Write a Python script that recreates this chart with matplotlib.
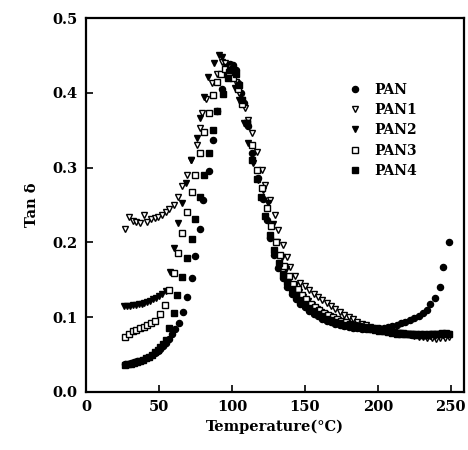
import numpy as np
import matplotlib; matplotlib.use("Agg"); import matplotlib.pyplot as plt

plt.rcParams["font.family"] = ["DejaVu Serif"]
plt.rcParams["font.weight"] = "bold"

# ---- data (Temperature in C, tan delta) ----
pan_t = [27, 29, 31, 33, 35, 37, 39, 41, 43, 45, 47, 49, 51, 53, 55, 57, 59, 61,
         64, 66.5, 69, 72.5, 75, 78, 80, 84, 87, 90, 93, 95, 97, 99, 101, 103, 104,
         106, 108, 111, 114, 118, 121, 124, 126, 129, 131.5, 135, 138, 141, 144, 147,
         150, 153, 156, 159, 162, 165, 168, 171, 174, 177, 180, 183, 186, 189, 192,
         195, 198, 201, 204, 207, 210, 213, 216, 219, 222, 225, 228, 231, 233.5, 236,
         239, 242.5, 245, 249]
pan_v = [.038, .038, .039, .040, .041, .042, .043, .045, .047, .049, .052, .055, .058,
         .062, .066, .071, .077, .084, .092, .107, .127, .152, .182, .218, .257, .296,
         .337, .376, .405, .425, .435, .438, .437, .430, .413, .400, .386, .355, .320,
         .286, .258, .230, .206, .183, .166, .152, .140, .131, .124, .118, .113, .108,
         .104, .101, .098, .095, .093, .091, .089, .088, .087, .086, .085, .084, .084,
         .084, .084, .085, .086, .087, .088, .090, .092, .094, .096, .099, .102, .106,
         .110, .117, .125, .140, .167, .200]

pan1_t = [27, 29.5, 32, 34.5, 37, 39.5, 42, 44.5, 47, 49.5, 52, 54.5, 57, 60, 63, 66,
          69, 72, 76, 78, 79.5, 82, 86, 90, 93, 95, 97, 99, 101, 103, 105, 107, 109,
          111, 114, 117, 120.5, 122.6, 126, 129.5, 131.5, 135, 138, 140, 143, 146.6,
          150, 153, 156, 159, 162, 165, 168, 171, 174, 177, 180, 183, 186, 189, 192,
          195, 198, 201, 204, 207, 210, 213, 216, 219, 222, 225, 228, 231, 234, 237,
          240, 243, 246, 249]
pan1_v = [.218, .234, .229, .227, .226, .237, .227, .231, .232, .234, .236, .240, .245,
          .250, .260, .275, .290, .310, .330, .353, .373, .392, .413, .425, .441, .440,
          .435, .430, .425, .415, .400, .390, .380, .364, .346, .321, .297, .277, .257,
          .237, .217, .197, .180, .167, .155, .146, .141, .136, .131, .127, .123, .119,
          .115, .111, .107, .103, .100, .097, .094, .091, .089, .087, .085, .083, .082,
          .081, .080, .079, .078, .077, .076, .075, .074, .073, .072, .072, .071, .072,
          .072, .073]

pan2_t = [26, 28, 30, 32, 34, 36, 38, 40, 42, 44, 46, 48, 50, 52, 55, 57.5, 60, 63, 66,
          68.5, 72, 76, 78, 81, 83.5, 88, 91, 93, 96, 99, 102, 105, 108, 111, 114.5,
          118, 121, 124.5, 128, 131, 134, 137, 140, 143, 146, 149, 152, 155, 158, 161,
          164, 167, 170, 173, 176, 179, 182, 185, 188, 191, 194, 197, 200, 203, 206,
          209, 212, 215, 218, 221, 224, 227, 230, 233, 236, 239, 242, 245, 248]
pan2_v = [.115, .115, .115, .116, .116, .117, .118, .119, .120, .122, .124, .126, .128,
          .131, .135, .160, .193, .226, .253, .280, .310, .340, .366, .394, .421, .440,
          .450, .448, .435, .420, .406, .390, .360, .333, .306, .283, .270, .252, .225,
          .200, .180, .165, .153, .143, .134, .127, .121, .116, .111, .107, .104, .101,
          .098, .096, .094, .092, .090, .088, .087, .086, .085, .084, .083, .082, .081,
          .080, .079, .079, .078, .077, .077, .076, .076, .075, .075, .075, .076, .076,
          .077]

pan3_t = [27, 29.5, 32, 34.5, 37, 39.5, 42, 44.5, 47, 50.5, 54, 57, 60, 63, 66, 69,
          72.5, 75, 78, 81, 84, 87, 90, 92.5, 95, 98, 101, 104, 107, 110, 113.5, 117,
          120.5, 124, 127, 130, 133, 136, 139, 142, 145, 148, 151, 154, 157, 160, 163,
          166, 169, 172, 175, 178, 181, 184, 187, 190, 193, 196, 199, 202, 205, 208,
          211, 214, 217, 220, 223, 226, 229, 232, 235, 238, 241, 244, 247]
pan3_v = [.074, .078, .081, .083, .085, .087, .089, .092, .095, .104, .116, .136, .159,
          .186, .213, .240, .267, .290, .320, .348, .373, .397, .414, .425, .432, .428,
          .420, .405, .385, .360, .330, .297, .273, .246, .222, .200, .183, .168, .155,
          .145, .137, .130, .124, .118, .114, .110, .106, .103, .100, .097, .095, .093,
          .091, .089, .088, .087, .086, .085, .084, .083, .082, .081, .080, .079, .079,
          .078, .078, .077, .077, .077, .078, .078, .078, .079, .079]

pan4_t = [27, 29, 31, 33, 35, 37, 39, 41, 43, 45, 47, 49, 51, 53, 55, 57, 60, 62, 66,
          69, 72.5, 75, 78, 81, 84, 87, 90, 94, 97, 99, 101, 103, 105, 107, 110, 114,
          117, 120, 123, 126, 129, 132, 135, 138, 141, 144, 147, 150, 153, 156, 159,
          162, 165, 168, 171, 174, 177, 180, 183, 186, 189, 192, 195, 198, 201, 204,
          207, 210, 213, 216, 219, 222, 225, 228, 231, 234, 237, 240, 243, 246, 249]
pan4_v = [.036, .037, .038, .039, .040, .041, .043, .045, .047, .050, .053, .056, .060,
          .064, .070, .085, .105, .130, .154, .179, .205, .231, .260, .290, .320, .350,
          .375, .398, .420, .430, .432, .425, .410, .390, .360, .310, .285, .260, .235,
          .210, .190, .172, .158, .147, .138, .130, .123, .117, .112, .108, .104, .101,
          .098, .096, .094, .092, .090, .089, .088, .087, .086, .085, .084, .083, .082,
          .081, .080, .079, .078, .078, .077, .077, .076, .076, .076, .076, .077, .077,
          .077, .078, .078]

series = [("PAN", pan_t, pan_v, "o", "k", 4.4),
          ("PAN1", pan1_t, pan1_v, "v", "w", 4.6),
          ("PAN2", pan2_t, pan2_v, "v", "k", 4.6),
          ("PAN3", pan3_t, pan3_v, "s", "w", 3.8),
          ("PAN4", pan4_t, pan4_v, "s", "k", 3.8)]

fig = plt.figure(figsize=(4.68, 4.5), dpi=100)
ax = fig.add_axes([0.184, 0.129, 0.807, 0.831])
for name, t, v, m, fc, ms in series:
    ax.plot(t, v, ls="none", marker=m, mfc=fc, mec="k", mew=1.0, ms=ms, label=name)

ax.set_xlim(0, 259)
ax.set_ylim(0, 0.5)
ax.set_xticks([0, 50, 100, 150, 200, 250])
ax.set_yticks([0.0, 0.1, 0.2, 0.3, 0.4, 0.5])
ax.yaxis.set_major_formatter(matplotlib.ticker.FormatStrFormatter("%.1f"))
ax.tick_params(direction="in", length=5, width=1.2, labelsize=10.5, pad=6)
for s in ax.spines.values():
    s.set_linewidth(1.6)
ax.set_xlabel("Temperature(\u00b0C)", fontsize=10.5, fontweight="bold")
ax.set_ylabel("Tan \u03b4", fontsize=10.5, fontweight="bold", labelpad=10)
ax.legend(loc="upper left", bbox_to_anchor=(0.66, 0.86), frameon=False,
          handlelength=1.0, handletextpad=0.9, labelspacing=0.45, fontsize=10)

fig.savefig("out.png", dpi=100)
